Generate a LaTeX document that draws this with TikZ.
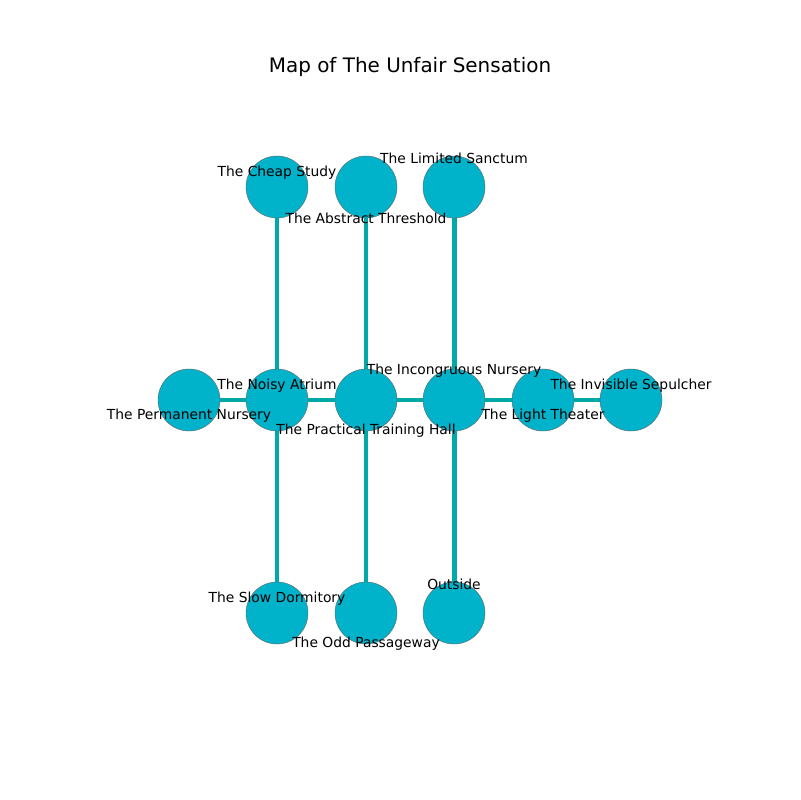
\documentclass[tikz,border=0pt]{standalone}
\usepackage{fontspec}
\setmainfont{DejaVu Sans}
\usetikzlibrary{backgrounds}
\definecolor{nodefill}{RGB}{0,178,202}
\definecolor{edgecol}{RGB}{0,168,168}
\begin{document}
\begin{tikzpicture}[x=0.01in,y=-0.01in,
  room/.style={circle,fill=nodefill,draw=gray!80!black,line width=0.3pt,minimum size=0.62in,inner sep=0pt},
  lab/.style={font=\fontsize{10}{12}\selectfont,inner sep=0pt,text=black},
  link/.style={edgecol,line width=3.6pt}]
\useasboundingbox (0,0) rectangle (800,800);
\node[font=\fontsize{14.4}{17}\selectfont] (title) at (410,67) {Map of The Unfair Sensation};
% nodes
\node[room] (cheap) at (277,187) {};
\node[room] (abstract) at (366,187) {};
\node[room] (limited) at (454,187) {};
\node[room] (permanent) at (189,400) {};
\node[room] (noisy) at (277,400) {};
\node[room] (practical) at (366,400) {};
\node[room] (incong) at (454,400) {};
\node[room] (light) at (543,400) {};
\node[room] (invisible) at (631,400) {};
\node[room] (slow) at (277,613) {};
\node[room] (odd) at (366,613) {};
\node[room] (outside) at (454,613) {};
% edges
\begin{scope}[on background layer]
\draw[link] (cheap.center) -- (noisy.center);
\draw[link] (abstract.center) -- (practical.center);
\draw[link] (limited.center) -- (incong.center);
\draw[link] (permanent.center) -- (noisy.center);
\draw[link] (noisy.center) -- (practical.center);
\draw[link] (practical.center) -- (incong.center);
\draw[link] (incong.center) -- (light.center);
\draw[link] (light.center) -- (invisible.center);
\draw[link] (noisy.center) -- (slow.center);
\draw[link] (practical.center) -- (odd.center);
\draw[link] (incong.center) -- (outside.center);
\end{scope}
% labels
\node[lab] (lcheap) at (277,173) {The Cheap Study};
\node[lab] (llimited) at (454,158) {The Limited Sanctum};
\node[lab] (labstract) at (366,218) {The Abstract Threshold};
\node[lab] (lnoisy) at (277,386) {The Noisy Atrium};
\node[lab] (lpermanent) at (189,416) {The Permanent Nursery};
\node[lab] (lpractical) at (366,431) {The Practical Training Hall};
\node[lab] (lincong) at (454,371) {The Incongruous Nursery};
\node[lab] (llight) at (543,416) {The Light Theater};
\node[lab] (linvisible) at (631,386) {The Invisible Sepulcher};
\node[lab] (lslow) at (277,599) {The Slow Dormitory};
\node[lab] (lodd) at (366,644) {The Odd Passageway};
\node[lab] (loutside) at (454,584) {Outside};
\end{tikzpicture}
\end{document}
